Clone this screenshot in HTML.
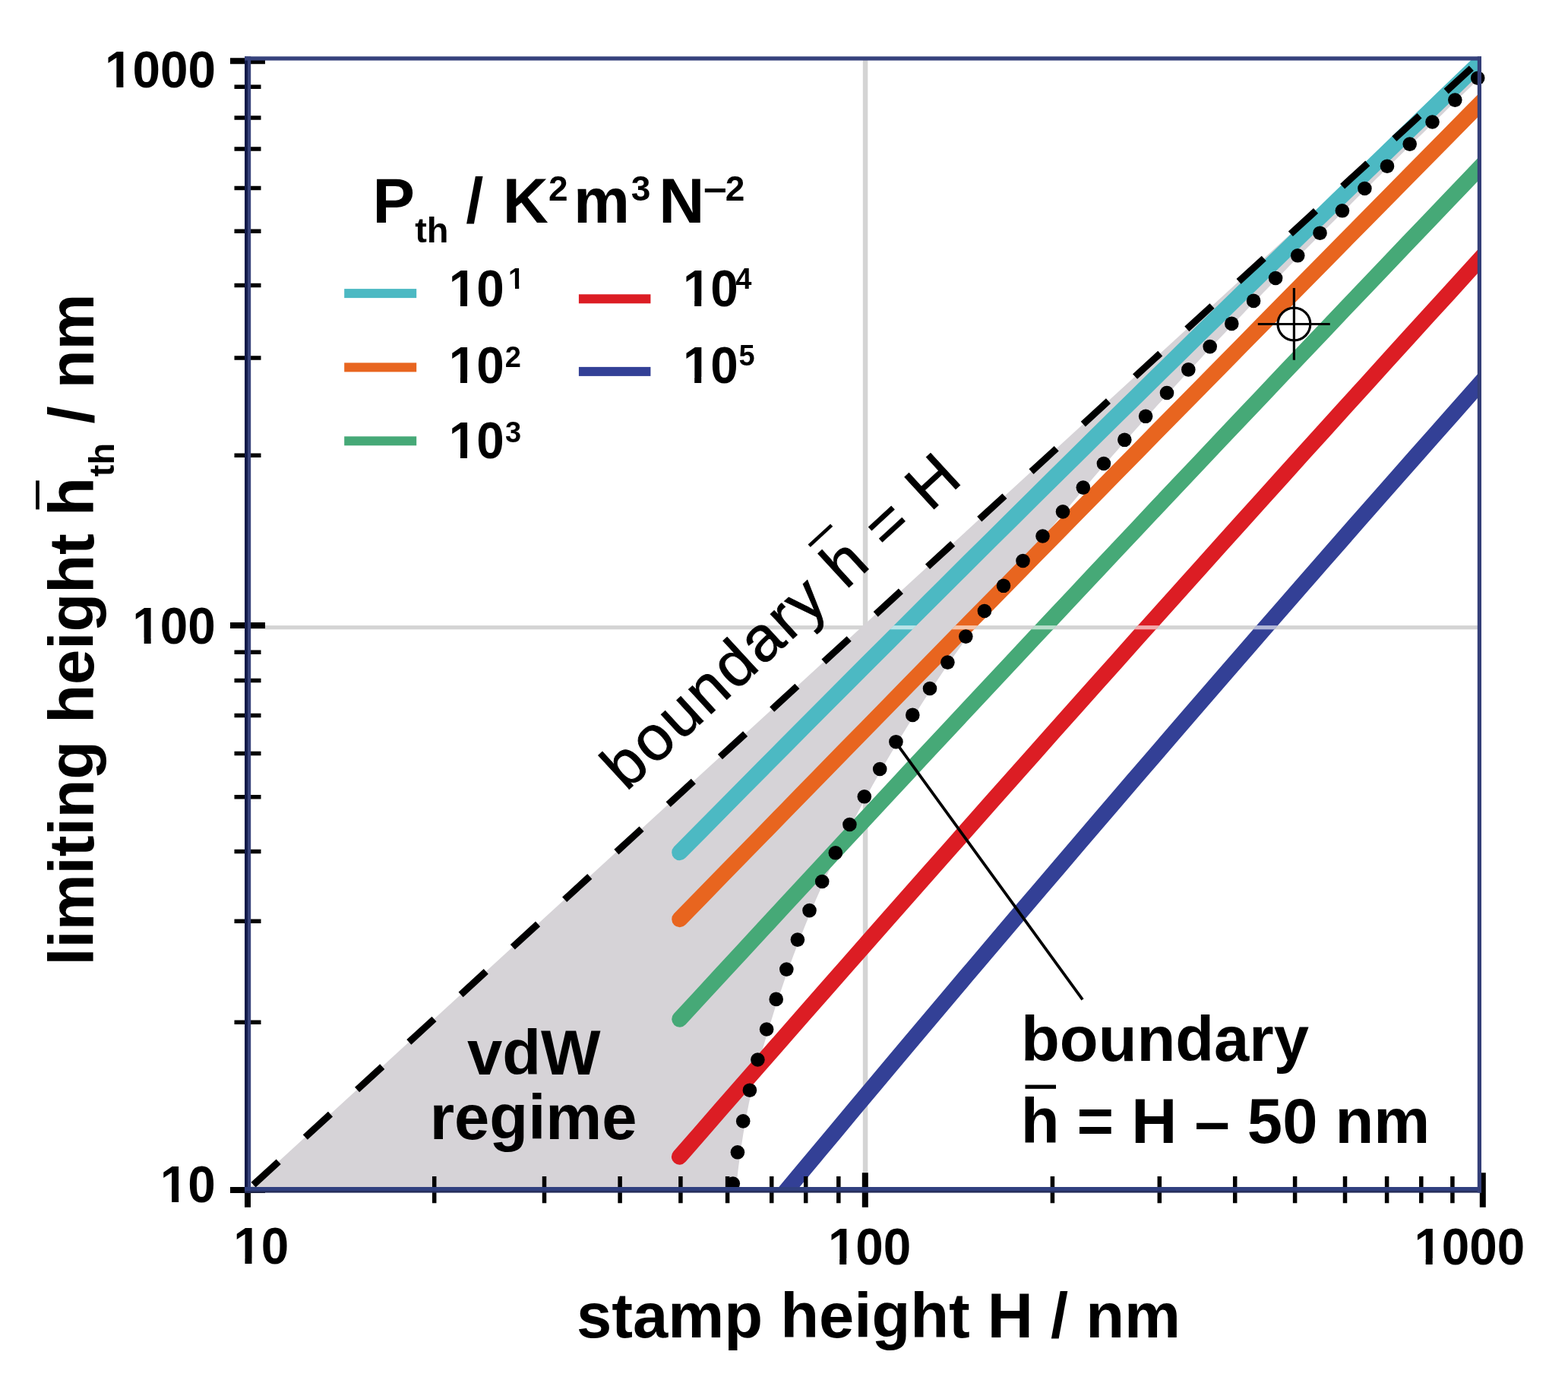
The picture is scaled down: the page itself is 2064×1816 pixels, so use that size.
<!DOCTYPE html>
<html><head><meta charset="utf-8"><title>limiting height vs stamp height</title>
<style>html,body{margin:0;padding:0;background:#fff;}svg{display:block;}</style>
</head><body>
<svg xmlns="http://www.w3.org/2000/svg" width="2064" height="1816" viewBox="0 0 2064 1816" font-family="'Liberation Sans', Arial, Helvetica, sans-serif">
<defs><clipPath id="plot"><rect x="326" y="77" width="1621.4" height="1488.8"/></clipPath>
<mask id="cm" maskUnits="userSpaceOnUse" x="0" y="0" width="2064" height="1816"><g fill="none" stroke="#fff" stroke-width="21" stroke-linecap="round" clip-path="url(#plot)">
<path d="M894.7,1121.7 L922.1,1094.0 L949.4,1066.3 L976.8,1038.6 L1004.2,1011.0 L1031.5,983.5 L1058.9,955.9 L1086.3,928.4 L1113.6,901.0 L1141.0,873.5 L1168.4,846.2 L1195.7,818.8 L1223.1,791.5 L1250.5,764.3 L1277.8,737.0 L1305.2,709.9 L1332.6,682.7 L1359.9,655.6 L1387.3,628.5 L1414.7,601.5 L1442.0,574.5 L1469.4,547.6 L1496.8,520.7 L1524.1,493.8 L1551.5,466.9 L1578.9,440.1 L1606.2,413.4 L1633.6,386.7 L1661.0,360.0 L1688.3,333.4 L1715.7,306.8 L1743.1,280.2 L1770.4,253.7 L1797.8,227.2 L1825.2,200.7 L1852.5,174.3 L1879.9,148.0 L1907.3,121.6 L1934.6,95.4 L1962.0,69.1"/>
<path d="M894.7,1209.7 L922.1,1181.6 L949.4,1153.5 L976.8,1125.5 L1004.2,1097.5 L1031.5,1069.5 L1058.9,1041.4 L1086.3,1013.4 L1113.6,985.4 L1141.0,957.5 L1168.4,929.5 L1195.7,901.5 L1223.1,873.6 L1250.5,845.6 L1277.8,817.7 L1305.2,789.8 L1332.6,761.9 L1359.9,734.0 L1387.3,706.1 L1414.7,678.2 L1442.0,650.3 L1469.4,622.4 L1496.8,594.6 L1524.1,566.7 L1551.5,538.9 L1578.9,511.1 L1606.2,483.3 L1633.6,455.5 L1661.0,427.7 L1688.3,399.9 L1715.7,372.1 L1743.1,344.3 L1770.4,316.6 L1797.8,288.8 L1825.2,261.1 L1852.5,233.4 L1879.9,205.6 L1907.3,177.9 L1934.6,150.2 L1962.0,122.5"/>
<path d="M894.7,1341.2 L922.1,1311.5 L949.4,1281.9 L976.8,1252.3 L1004.2,1222.7 L1031.5,1193.2 L1058.9,1163.7 L1086.3,1134.2 L1113.6,1104.7 L1141.0,1075.3 L1168.4,1045.9 L1195.7,1016.5 L1223.1,987.2 L1250.5,957.9 L1277.8,928.6 L1305.2,899.3 L1332.6,870.1 L1359.9,840.9 L1387.3,811.7 L1414.7,782.6 L1442.0,753.5 L1469.4,724.4 L1496.8,695.4 L1524.1,666.3 L1551.5,637.3 L1578.9,608.4 L1606.2,579.4 L1633.6,550.5 L1661.0,521.7 L1688.3,492.8 L1715.7,464.0 L1743.1,435.2 L1770.4,406.4 L1797.8,377.7 L1825.2,349.0 L1852.5,320.3 L1879.9,291.7 L1907.3,263.1 L1934.6,234.5 L1962.0,205.9"/>
<path d="M894.4,1522.2 L921.8,1490.8 L949.1,1459.4 L976.5,1428.1 L1003.9,1396.9 L1031.3,1365.6 L1058.6,1334.4 L1086.0,1303.3 L1113.4,1272.1 L1140.8,1241.0 L1168.1,1210.0 L1195.5,1179.0 L1222.9,1148.0 L1250.3,1117.1 L1277.6,1086.2 L1305.0,1055.3 L1332.4,1024.5 L1359.8,993.7 L1387.1,962.9 L1414.5,932.2 L1441.9,901.6 L1469.3,870.9 L1496.6,840.3 L1524.0,809.7 L1551.4,779.2 L1578.8,748.7 L1606.1,718.3 L1633.5,687.9 L1660.9,657.5 L1688.3,627.1 L1715.6,596.8 L1743.0,566.6 L1770.4,536.3 L1797.8,506.2 L1825.1,476.0 L1852.5,445.9 L1879.9,415.8 L1907.3,385.8 L1934.6,355.8 L1962.0,325.8"/>
<path d="M1000.0,1608.8 L1024.7,1579.1 L1049.3,1549.5 L1074.0,1519.9 L1098.7,1490.4 L1123.3,1460.9 L1148.0,1431.5 L1172.7,1402.1 L1197.3,1372.8 L1222.0,1343.5 L1246.7,1314.3 L1271.3,1285.1 L1296.0,1256.0 L1320.7,1226.9 L1345.3,1197.9 L1370.0,1169.0 L1394.7,1140.1 L1419.3,1111.2 L1444.0,1082.4 L1468.7,1053.6 L1493.3,1024.9 L1518.0,996.3 L1542.7,967.7 L1567.3,939.1 L1592.0,910.6 L1616.7,882.2 L1641.3,853.8 L1666.0,825.4 L1690.7,797.1 L1715.3,768.9 L1740.0,740.7 L1764.7,712.5 L1789.3,684.4 L1814.0,656.4 L1838.7,628.4 L1863.3,600.5 L1888.0,572.6 L1912.7,544.7 L1937.3,516.9 L1962.0,489.2"/>
</g></mask></defs>
<rect width="2064" height="1816" fill="#fff"/>
<g fill="#d4d4d4"><rect x="1135.8" y="77" width="6.5" height="1488.8"/><rect x="326" y="823.1" width="1621.4" height="5.2"/></g>
<polygon clip-path="url(#plot)" fill="#d6d3d7" points="326.0,1565.8 1947.4,80.0 1949.9,100.6 1945.0,105.4 1940.0,110.1 1935.1,114.9 1930.1,119.7 1925.2,124.5 1920.2,129.2 1915.3,134.0 1910.3,138.8 1905.4,143.6 1900.4,148.4 1895.5,153.2 1890.5,158.0 1885.6,162.8 1880.7,167.6 1875.7,172.5 1870.8,177.3 1865.8,182.1 1860.9,187.0 1855.9,191.8 1851.0,196.6 1846.0,201.5 1841.1,206.3 1836.1,211.2 1831.2,216.1 1826.2,220.9 1821.3,225.8 1816.4,230.7 1811.4,235.6 1806.5,240.5 1801.5,245.3 1796.6,250.3 1791.6,255.2 1786.7,260.1 1781.7,265.0 1776.8,269.9 1771.8,274.8 1766.9,279.8 1761.9,284.7 1757.0,289.7 1752.1,294.6 1747.1,299.6 1742.2,304.6 1737.2,309.6 1732.3,314.5 1727.3,319.5 1722.4,324.5 1717.4,329.5 1712.5,334.6 1707.5,339.6 1702.6,344.6 1697.6,349.6 1692.7,354.7 1687.8,359.7 1682.8,364.8 1677.9,369.9 1672.9,375.0 1668.0,380.0 1663.0,385.1 1658.1,390.3 1653.1,395.4 1648.2,400.5 1643.2,405.6 1638.3,410.8 1633.3,415.9 1628.4,421.1 1623.4,426.3 1618.5,431.5 1613.6,436.7 1608.6,441.9 1603.7,447.1 1598.7,452.3 1593.8,457.6 1588.8,462.8 1583.9,468.1 1578.9,473.4 1574.0,478.7 1569.0,484.0 1564.1,489.3 1559.1,494.6 1554.2,500.0 1549.3,505.3 1544.3,510.7 1539.4,516.1 1534.4,521.5 1529.5,526.9 1524.5,532.3 1519.6,537.8 1514.6,543.2 1509.7,548.7 1504.7,554.2 1499.8,559.7 1494.8,565.3 1489.9,570.8 1485.0,576.4 1480.0,582.0 1475.1,587.6 1470.1,593.2 1465.2,598.8 1460.2,604.5 1455.3,610.2 1450.3,615.9 1445.4,621.6 1440.4,627.3 1435.5,633.1 1430.5,638.9 1425.6,644.7 1420.7,650.5 1415.7,656.4 1410.8,662.3 1405.8,668.2 1400.9,674.1 1395.9,680.1 1391.0,686.0 1386.0,692.1 1381.1,698.1 1376.1,704.2 1371.2,710.3 1366.2,716.4 1361.3,722.6 1356.4,728.8 1351.4,735.0 1346.5,741.2 1341.5,747.5 1336.6,753.9 1331.6,760.2 1326.7,766.6 1321.7,773.1 1316.8,779.5 1311.8,786.1 1306.9,792.6 1301.9,799.2 1297.0,805.9 1292.1,812.5 1287.1,819.3 1282.2,826.1 1277.2,832.9 1272.3,839.8 1267.3,846.7 1262.4,853.7 1257.4,860.7 1252.5,867.8 1247.5,874.9 1242.6,882.1 1237.6,889.4 1232.7,896.7 1227.8,904.1 1222.8,911.6 1217.9,919.1 1212.9,926.7 1208.0,934.4 1203.0,942.2 1198.1,950.0 1193.1,957.9 1188.2,965.9 1183.2,974.0 1178.3,982.2 1173.3,990.4 1168.4,998.8 1163.5,1007.3 1158.5,1015.8 1153.6,1024.5 1148.6,1033.3 1143.7,1042.2 1138.7,1051.3 1133.8,1060.5 1128.8,1069.8 1123.9,1079.2 1118.9,1088.8 1114.0,1098.6 1109.0,1108.5 1104.1,1118.6 1099.2,1128.8 1094.2,1139.3 1089.3,1149.9 1084.3,1160.8 1079.4,1171.8 1074.4,1183.1 1069.5,1194.7 1064.5,1206.5 1059.6,1218.6 1054.6,1230.9 1049.7,1243.6 1044.7,1256.6 1039.8,1270.0 1034.8,1283.8 1029.9,1297.9 1025.0,1312.5 1020.0,1327.6 1015.1,1343.2 1010.1,1359.3 1005.2,1376.0 1000.2,1393.5 995.3,1411.6 990.5,1430.5 986.1,1450.4 982.0,1471.2 978.2,1493.2 974.6,1516.4 971.4,1541.0 968.7,1566.0"/>
<g fill="none" stroke-width="21" stroke-linecap="round" clip-path="url(#plot)">
<path stroke="#4cb9c3" d="M894.7,1121.7 L922.1,1094.0 L949.4,1066.3 L976.8,1038.6 L1004.2,1011.0 L1031.5,983.5 L1058.9,955.9 L1086.3,928.4 L1113.6,901.0 L1141.0,873.5 L1168.4,846.2 L1195.7,818.8 L1223.1,791.5 L1250.5,764.3 L1277.8,737.0 L1305.2,709.9 L1332.6,682.7 L1359.9,655.6 L1387.3,628.5 L1414.7,601.5 L1442.0,574.5 L1469.4,547.6 L1496.8,520.7 L1524.1,493.8 L1551.5,466.9 L1578.9,440.1 L1606.2,413.4 L1633.6,386.7 L1661.0,360.0 L1688.3,333.4 L1715.7,306.8 L1743.1,280.2 L1770.4,253.7 L1797.8,227.2 L1825.2,200.7 L1852.5,174.3 L1879.9,148.0 L1907.3,121.6 L1934.6,95.4 L1962.0,69.1"/>
<path stroke="#e8651f" d="M894.7,1209.7 L922.1,1181.6 L949.4,1153.5 L976.8,1125.5 L1004.2,1097.5 L1031.5,1069.5 L1058.9,1041.4 L1086.3,1013.4 L1113.6,985.4 L1141.0,957.5 L1168.4,929.5 L1195.7,901.5 L1223.1,873.6 L1250.5,845.6 L1277.8,817.7 L1305.2,789.8 L1332.6,761.9 L1359.9,734.0 L1387.3,706.1 L1414.7,678.2 L1442.0,650.3 L1469.4,622.4 L1496.8,594.6 L1524.1,566.7 L1551.5,538.9 L1578.9,511.1 L1606.2,483.3 L1633.6,455.5 L1661.0,427.7 L1688.3,399.9 L1715.7,372.1 L1743.1,344.3 L1770.4,316.6 L1797.8,288.8 L1825.2,261.1 L1852.5,233.4 L1879.9,205.6 L1907.3,177.9 L1934.6,150.2 L1962.0,122.5"/>
<path stroke="#46a977" d="M894.7,1341.2 L922.1,1311.5 L949.4,1281.9 L976.8,1252.3 L1004.2,1222.7 L1031.5,1193.2 L1058.9,1163.7 L1086.3,1134.2 L1113.6,1104.7 L1141.0,1075.3 L1168.4,1045.9 L1195.7,1016.5 L1223.1,987.2 L1250.5,957.9 L1277.8,928.6 L1305.2,899.3 L1332.6,870.1 L1359.9,840.9 L1387.3,811.7 L1414.7,782.6 L1442.0,753.5 L1469.4,724.4 L1496.8,695.4 L1524.1,666.3 L1551.5,637.3 L1578.9,608.4 L1606.2,579.4 L1633.6,550.5 L1661.0,521.7 L1688.3,492.8 L1715.7,464.0 L1743.1,435.2 L1770.4,406.4 L1797.8,377.7 L1825.2,349.0 L1852.5,320.3 L1879.9,291.7 L1907.3,263.1 L1934.6,234.5 L1962.0,205.9"/>
<path stroke="#dc1d24" d="M894.4,1522.2 L921.8,1490.8 L949.1,1459.4 L976.5,1428.1 L1003.9,1396.9 L1031.3,1365.6 L1058.6,1334.4 L1086.0,1303.3 L1113.4,1272.1 L1140.8,1241.0 L1168.1,1210.0 L1195.5,1179.0 L1222.9,1148.0 L1250.3,1117.1 L1277.6,1086.2 L1305.0,1055.3 L1332.4,1024.5 L1359.8,993.7 L1387.1,962.9 L1414.5,932.2 L1441.9,901.6 L1469.3,870.9 L1496.6,840.3 L1524.0,809.7 L1551.4,779.2 L1578.8,748.7 L1606.1,718.3 L1633.5,687.9 L1660.9,657.5 L1688.3,627.1 L1715.6,596.8 L1743.0,566.6 L1770.4,536.3 L1797.8,506.2 L1825.1,476.0 L1852.5,445.9 L1879.9,415.8 L1907.3,385.8 L1934.6,355.8 L1962.0,325.8"/>
<path stroke="#334096" d="M1000.0,1608.8 L1024.7,1579.1 L1049.3,1549.5 L1074.0,1519.9 L1098.7,1490.4 L1123.3,1460.9 L1148.0,1431.5 L1172.7,1402.1 L1197.3,1372.8 L1222.0,1343.5 L1246.7,1314.3 L1271.3,1285.1 L1296.0,1256.0 L1320.7,1226.9 L1345.3,1197.9 L1370.0,1169.0 L1394.7,1140.1 L1419.3,1111.2 L1444.0,1082.4 L1468.7,1053.6 L1493.3,1024.9 L1518.0,996.3 L1542.7,967.7 L1567.3,939.1 L1592.0,910.6 L1616.7,882.2 L1641.3,853.8 L1666.0,825.4 L1690.7,797.1 L1715.3,768.9 L1740.0,740.7 L1764.7,712.5 L1789.3,684.4 L1814.0,656.4 L1838.7,628.4 L1863.3,600.5 L1888.0,572.6 L1912.7,544.7 L1937.3,516.9 L1962.0,489.2"/>
</g>
<g mask="url(#cm)" fill="#fff" fill-opacity="0.62"><rect x="326" y="823.1" width="1621.4" height="5.2"/></g>
<line clip-path="url(#plot)" x1="326" y1="1566" x2="1947.4" y2="80" stroke="#000" stroke-width="9" stroke-dasharray="45 47.6" stroke-dashoffset="-10.2"/>
<g fill="#000"><circle cx="1945.2" cy="102.7" r="9.3"/><circle cx="1915.3" cy="131.6" r="9.3"/><circle cx="1885.5" cy="160.5" r="9.3"/><circle cx="1855.7" cy="189.6" r="9.3"/><circle cx="1826.0" cy="218.7" r="9.3"/><circle cx="1796.4" cy="248.0" r="9.3"/><circle cx="1766.9" cy="277.3" r="9.3"/><circle cx="1737.5" cy="306.7" r="9.3"/><circle cx="1708.2" cy="336.3" r="9.3"/><circle cx="1679.1" cy="366.0" r="9.3"/><circle cx="1650.1" cy="395.9" r="9.3"/><circle cx="1621.3" cy="425.9" r="9.3"/><circle cx="1592.7" cy="456.1" r="9.3"/><circle cx="1564.3" cy="486.4" r="9.3"/><circle cx="1536.0" cy="517.0" r="9.3"/><circle cx="1508.1" cy="547.8" r="9.3"/><circle cx="1480.3" cy="578.8" r="9.3"/><circle cx="1452.9" cy="610.0" r="9.3"/><circle cx="1425.8" cy="641.6" r="9.3"/><circle cx="1399.0" cy="673.4" r="9.3"/><circle cx="1372.5" cy="705.5" r="9.3"/><circle cx="1346.5" cy="738.0" r="9.3"/><circle cx="1321.0" cy="770.8" r="9.3"/><circle cx="1295.9" cy="804.0" r="9.3"/><circle cx="1271.3" cy="837.6" r="9.3"/><circle cx="1247.4" cy="871.6" r="9.3"/><circle cx="1224.0" cy="906.0" r="9.3"/><circle cx="1201.3" cy="940.9" r="9.3"/><circle cx="1179.4" cy="976.2" r="9.3"/><circle cx="1158.2" cy="1012.0" r="9.3"/><circle cx="1137.8" cy="1048.3" r="9.3"/><circle cx="1118.4" cy="1085.0" r="9.3"/><circle cx="1099.8" cy="1122.3" r="9.3"/><circle cx="1082.2" cy="1160.0" r="9.3"/><circle cx="1065.5" cy="1198.1" r="9.3"/><circle cx="1049.9" cy="1236.6" r="9.3"/><circle cx="1035.3" cy="1275.6" r="9.3"/><circle cx="1021.7" cy="1314.9" r="9.3"/><circle cx="1009.1" cy="1354.5" r="9.3"/><circle cx="997.4" cy="1394.5" r="9.3"/><circle cx="986.9" cy="1434.7" r="9.3"/><circle cx="978.2" cy="1475.4" r="9.3"/><circle cx="970.9" cy="1516.3" r="9.3"/><circle cx="964.8" cy="1557.5" r="9.3"/></g>
<line x1="1178.6" y1="976.1" x2="1423.9" y2="1313.9" stroke="#000" stroke-width="3.8" stroke-linecap="square"/>
<circle cx="1703.4" cy="426.5" r="21.4" fill="#fff" stroke="#000" stroke-width="3.2"/>
<path d="M1655.8,426.5 H1750.7 M1703.4,379.1 V473.7" stroke="#000" stroke-width="3.2"/>
<path d="M571.7,1548V1583.2M716.5,1548V1583.2M816.1,1548V1583.2M895.9,1548V1583.2M957.6,1548V1583.2M1015.7,1548V1583.2M1060.7,1548V1583.2M1103.8,1548V1583.2M1385.4,1548V1583.2M1526.3,1548V1583.2M1625.7,1548V1583.2M1704.6,1548V1583.2M1770.5,1548V1583.2M1825.6,1548V1583.2M1870.8,1548V1583.2M1911.9,1548V1583.2M308.5,114.2H343.5M308.5,155.0H343.5M308.5,196.0H343.5M308.5,247.5H343.5M308.5,304.3H343.5M308.5,375.6H343.5M308.5,471.0H343.5M308.5,599.3H343.5M308.5,858.3H343.5M308.5,895.5H343.5M308.5,941.5H343.5M308.5,991.5H343.5M308.5,1048.8H343.5M308.5,1120.5H343.5M308.5,1212.3H343.5M308.5,1345.3H343.5" stroke="#000" stroke-width="5.5"/>
<path d="M326.0,1543.2V1588.8M1138.8,1543.2V1588.8M1951.8,1543.2V1588.8M303,1566.0H349M303,823.1H349M303,80.2H349" stroke="#000" stroke-width="8"/>
<g fill="#2c3672">
<rect x="326" y="74.3" width="4.2" height="1495.3" fill="#37427a"/>
<rect x="322" y="74.3" width="4" height="1495.3" fill="#121b4a"/>
<rect x="322" y="1562" width="1628" height="5" fill="#30407f"/>
<rect x="322" y="1567" width="1628" height="2.6" fill="#262f5c"/>
<rect x="322" y="74.3" width="1628" height="5.3" fill="#36427c"/>
<rect x="1944.8" y="74.3" width="5.2" height="1495.3" fill="#343f78"/>
</g>
<g fill="#000">
<text x="138.1" y="115.4" font-size="65.6" font-weight="bold" transform="matrix(1 0 0 1.040 0 -4.62)">1000</text>
<text x="174.3" y="847.1" font-size="65.6" font-weight="bold" transform="matrix(1 0 0 1.040 0 -33.88)">100</text>
<text x="210.8" y="1582.5" font-size="65.6" font-weight="bold" transform="matrix(1 0 0 1.040 0 -63.30)">10</text>
<text x="307.2" y="1663.4" font-size="65.6" font-weight="bold" transform="matrix(1 0 0 1.040 0 -66.54)">10</text>
<text x="1089.9" y="1663.7" font-size="65.6" font-weight="bold" transform="matrix(1 0 0 1.040 0 -66.55)">100</text>
<text x="1861.4" y="1663.7" font-size="65.6" font-weight="bold" transform="matrix(1 0 0 1.040 0 -66.55)">1000</text>
<text x="759.1" y="1760.4" font-size="83.2" font-weight="bold">stamp height H / nm</text>
<text transform="translate(123.1,1264.8) rotate(-90)" x="-5.8" y="0" font-size="83.2" font-weight="bold">limiting height h</text>
<text transform="translate(150,626.6) rotate(-90)" x="-0.6" y="0" font-size="47" font-weight="bold">th</text>
<text transform="translate(123.1,556.8) rotate(-90)" x="-0.8" y="0" font-size="83.2" font-weight="bold">/ nm</text>
<rect x="47.1" y="632.4" width="4.7" height="38"/>
<text x="490.6" y="292.6" font-size="83.2" font-weight="bold">P</text>
<text x="546.2" y="318.6" font-size="47" font-weight="bold">th</text>
<text x="613.2" y="292.6" font-size="83.2" font-weight="bold">/</text>
<text x="661.8" y="292.6" font-size="83.2" font-weight="bold">K</text>
<text x="722" y="263.8" font-size="46" font-weight="bold">2</text>
<text x="755" y="292.6" font-size="83.2" font-weight="bold">m</text>
<text x="830.7" y="263.8" font-size="46" font-weight="bold">3</text>
<text x="867.3" y="292.6" font-size="83.2" font-weight="bold">N</text>
<rect x="927.8" y="248.1" width="27.1" height="5.1"/>
<text x="954.8" y="263.8" font-size="46" font-weight="bold">2</text>
<rect x="453.2" y="380.1" width="95" height="12" fill="#4cb9c3"/>
<text x="590.7" y="402.9" font-size="65.6" font-weight="bold" transform="matrix(1 0 0 1.040 0 -16.12)">10</text>
<text x="669.1" y="380.3" font-size="38" font-weight="bold" transform="matrix(1 0 0 1.040 0 -15.21)">1</text>
<rect x="453.2" y="477.4" width="95" height="12" fill="#e8651f"/>
<text x="590.7" y="503.7" font-size="65.6" font-weight="bold" transform="matrix(1 0 0 1.040 0 -20.15)">10</text>
<text x="664.7" y="483" font-size="38" font-weight="bold" transform="matrix(1 0 0 1.040 0 -19.32)">2</text>
<rect x="453.2" y="574.3" width="95" height="12" fill="#46a977"/>
<text x="590.7" y="603.4" font-size="65.6" font-weight="bold" transform="matrix(1 0 0 1.040 0 -24.14)">10</text>
<text x="665.1" y="581.6" font-size="38" font-weight="bold" transform="matrix(1 0 0 1.040 0 -23.26)">3</text>
<rect x="761.9" y="387.3" width="94.5" height="12" fill="#dc1d24"/>
<text x="898.9" y="402.9" font-size="65.6" font-weight="bold" transform="matrix(1 0 0 1.040 0 -16.12)">10</text>
<text x="968.2" y="380.3" font-size="38" font-weight="bold" transform="matrix(1 0 0 1.040 0 -15.21)">4</text>
<rect x="761.9" y="482.9" width="94.5" height="12" fill="#334096"/>
<text x="898.9" y="503.7" font-size="65.6" font-weight="bold" transform="matrix(1 0 0 1.040 0 -20.15)">10</text>
<text x="972.5" y="481" font-size="38" font-weight="bold" transform="matrix(1 0 0 1.040 0 -19.24)">5</text>
<text x="615" y="1414.2" font-size="83.2" font-weight="bold">vdW</text>
<text x="565.7" y="1498.7" font-size="83.2" font-weight="bold">regime</text>
<text x="1344" y="1395.5" font-size="83.2" font-weight="bold">boundary</text>
<text x="1343.7" y="1504.3" font-size="83.2" font-weight="bold">h = H – 50 nm</text>
<rect x="1349.5" y="1427.6" width="40.5" height="5.2"/>
<g transform="translate(828.2,1038.5) rotate(-42.56)">
<text x="-5.4" y="0" font-size="83.2" letter-spacing="2.5" stroke="#000" stroke-width="0.9">boundary h = H</text>
<rect x="391.2" y="-78" width="40" height="4.7"/>
</g>
</g>
<g fill="#fff"><rect x="141.19" y="107.84" width="12.18" height="8.36"/><rect x="162.37" y="107.84" width="11.35" height="8.36"/><rect x="177.47" y="839.54" width="12.18" height="8.36"/><rect x="198.65" y="839.54" width="11.35" height="8.36"/><rect x="213.96" y="1574.94" width="12.18" height="8.36"/><rect x="235.14" y="1574.94" width="11.35" height="8.36"/><rect x="310.30" y="1655.84" width="12.18" height="8.36"/><rect x="331.48" y="1655.84" width="11.35" height="8.36"/><rect x="1093.00" y="1656.14" width="12.18" height="8.36"/><rect x="1114.18" y="1656.14" width="11.35" height="8.36"/><rect x="1864.50" y="1656.14" width="12.18" height="8.36"/><rect x="1885.68" y="1656.14" width="11.35" height="8.36"/><rect x="593.80" y="395.34" width="12.18" height="8.36"/><rect x="614.98" y="395.34" width="11.35" height="8.36"/><rect x="670.50" y="375.67" width="7.48" height="5.43"/><rect x="683.19" y="375.67" width="6.99" height="5.43"/><rect x="593.80" y="496.14" width="12.18" height="8.36"/><rect x="614.98" y="496.14" width="11.35" height="8.36"/><rect x="593.80" y="595.84" width="12.18" height="8.36"/><rect x="614.98" y="595.84" width="11.35" height="8.36"/><rect x="902.00" y="395.34" width="12.18" height="8.36"/><rect x="923.18" y="395.34" width="11.35" height="8.36"/><rect x="902.00" y="496.14" width="12.18" height="8.36"/><rect x="923.18" y="496.14" width="11.35" height="8.36"/></g>
</svg>
</body></html>
